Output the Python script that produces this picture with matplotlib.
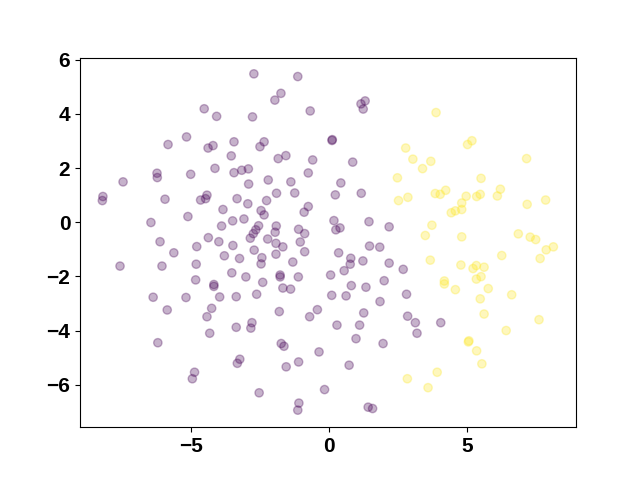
import numpy as np
import matplotlib
matplotlib.use('Agg')
import matplotlib.pyplot as plt

# class 0 (purple)
x0 = [-4.53, -4.08, -5.17, -5.84, -4.39, -4.21, -3.45, -3.55, -4.14, -6.24,
      -6.23, -5.02, -3.45, -3.17, -7.47, -2.73, -1.14, -1.75, -1.97, 1.15,
      1.30, 1.23, -0.69, -2.78, 0.11, 0.10, -2.36, -2.51, -1.85, -1.57,
      -0.60, 0.85, -2.93, -0.76, -2.21, -1.39, 0.42, -8.20, -8.22, -5.95,
      -4.66, -4.43, -4.48, -3.34, -2.95, -3.85, -5.12, -6.46, -3.50, -3.09,
      -3.90, -6.13, -5.63, -4.80, -4.38, -4.00, -3.49, -3.80, -3.25, -7.58,
      -6.06, -4.82, -3.53, -3.02, -4.84, -4.18, -4.18, -6.38, -5.19, -3.97,
      -3.37, -2.92, -1.91, -1.25, 0.22, 1.16, -2.27, -2.47, -2.36, -0.76,
      -0.91, 0.17, 1.44, 2.17, -2.56, -2.66, -2.75, -2.86, -1.92, -1.96,
      -1.11, -0.89, 0.39, 0.24, -2.23, -1.05, -1.93, -1.68, -2.72, -0.89,
      -1.93, -2.44, -2.47, -1.32, 0.34, 0.78, 0.76, 1.22, 1.46, 1.83,
      2.17, 2.68, 0.54, 0.05, -1.78, -1.78, -1.12, -2.41, 1.99, 0.80,
      1.33, -1.68, -1.40, -2.63, 0.09, 0.61, 1.84, 2.80, -5.87, -4.26,
      -4.43, -4.33, -3.37, -6.21, -3.24, -3.33, -4.88, -4.96, -2.80, -2.84,
      -1.81, -0.43, -0.71, 1.25, 0.28, 1.10, 2.84, 0.97, 1.95, -1.74,
      -1.64, -0.37, -1.11, -1.56, 0.72, -2.54, -0.17, -1.10, -1.14, 1.41,
      1.57, 3.12, 3.18, 4.04]
y0 = [4.19, 3.91, 3.15, 2.87, 2.74, 2.83, 2.97, 2.45, 1.99, 1.81,
      1.65, 1.77, 1.83, 1.92, 1.49, 5.48, 5.38, 4.76, 4.51, 4.37,
      4.48, 4.18, 4.11, 3.89, 3.05, 3.02, 2.97, 2.79, 2.35, 2.46,
      2.30, 2.22, 1.97, 1.82, 1.56, 1.49, 1.45, 0.95, 0.80, 0.85,
      0.82, 1.00, 0.87, 0.87, 0.68, 0.47, 0.21, -0.01, 0.05, 0.12,
      -0.14, -0.72, -1.13, -0.90, -0.57, -0.72, -0.86, -1.24, -1.34, -1.62,
      -1.62, -1.55, -1.87, -2.02, -2.13, -2.30, -2.37, -2.77, -2.78, -2.76,
      -2.75, 1.41, 1.07, 1.08, 1.01, 1.07, 0.80, 0.43, 0.27, 0.58,
      0.37, 0.06, 0.02, -0.17, -0.13, -0.28, -0.42, -0.59, -0.14, -0.37,
      -0.26, -0.42, -0.21, -0.28, -0.62, -0.73, -0.78, -0.91, -1.03, -1.09,
      -1.18, -1.31, -1.54, -1.47, -1.13, -1.33, -1.55, -1.43, -0.88, -0.92,
      -1.51, -1.74, -1.79, -1.95, -1.95, -2.02, -2.02, -2.22, -2.16, -2.34,
      -2.40, -2.43, -2.47, -2.66, -2.70, -2.72, -2.93, -2.66, -3.24, -3.18,
      -3.49, -4.10, -3.88, -4.45, -5.06, -5.21, -5.54, -5.78, -3.71, -3.91,
      -3.30, -3.23, -3.49, -3.35, -3.80, -3.80, -3.47, -4.30, -4.48, -4.48,
      -4.58, -4.79, -5.16, -5.34, -5.28, -6.30, -6.18, -6.68, -6.94, -6.83,
      -6.88, -3.71, -4.10, -3.71]

# class 1 (yellow)
x1 = [2.77, 3.03, 2.47, 3.87, 5.17, 5.01, 3.68, 3.38, 7.15, 5.50,
      2.51, 2.85, 3.84, 4.02, 4.22, 4.96, 5.34, 5.47, 6.20, 6.09,
      7.17, 7.84, 4.80, 4.42, 4.57, 4.80, 3.72, 3.48, 4.80, 6.85,
      7.28, 7.48, 7.86, 8.12, 7.64, 6.25, 3.66, 4.77, 5.21, 5.33,
      5.61, 5.33, 5.50, 4.17, 4.17, 4.57, 5.76, 5.47, 6.61, 5.61,
      7.60, 6.41, 5.06, 5.04, 5.34, 5.53, 3.91, 3.58, 2.83]
y1 = [2.74, 2.33, 1.64, 4.05, 3.01, 2.87, 2.25, 1.98, 2.35, 1.62,
      0.80, 0.92, 1.06, 1.03, 1.18, 0.96, 0.95, 1.03, 1.22, 0.97,
      0.66, 0.82, 0.71, 0.35, 0.42, 0.47, -0.11, -0.49, -0.54, -0.43,
      -0.55, -0.64, -1.02, -0.91, -1.34, -1.23, -1.40, -1.58, -1.71, -1.60,
      -1.66, -2.10, -2.01, -2.17, -2.28, -2.49, -2.45, -2.83, -2.68, -3.39,
      -3.60, -4.00, -4.38, -4.42, -4.75, -5.23, -5.54, -6.11, -5.78]

xs = np.array(x0 + x1)
ys = np.array(y0 + y1)
labels = np.array([0] * len(x0) + [1] * len(x1))

plt.rcParams['font.family'] = ['Liberation Sans', 'DejaVu Sans']

fig, ax = plt.subplots(figsize=(6.4, 4.8), dpi=100)
ax.scatter(xs, ys, c=labels, cmap='viridis', alpha=0.3)
ax.set_xlim(-9.03, 8.94)
ax.set_ylim(-7.57, 6.08)
ax.set_xticks([-5, 0, 5])
ax.set_yticks([-6, -4, -2, 0, 2, 4, 6])
for lab in ax.get_xticklabels() + ax.get_yticklabels():
    lab.set_fontsize(15)
    lab.set_fontweight('bold')

plt.savefig('out.png', dpi=100)
